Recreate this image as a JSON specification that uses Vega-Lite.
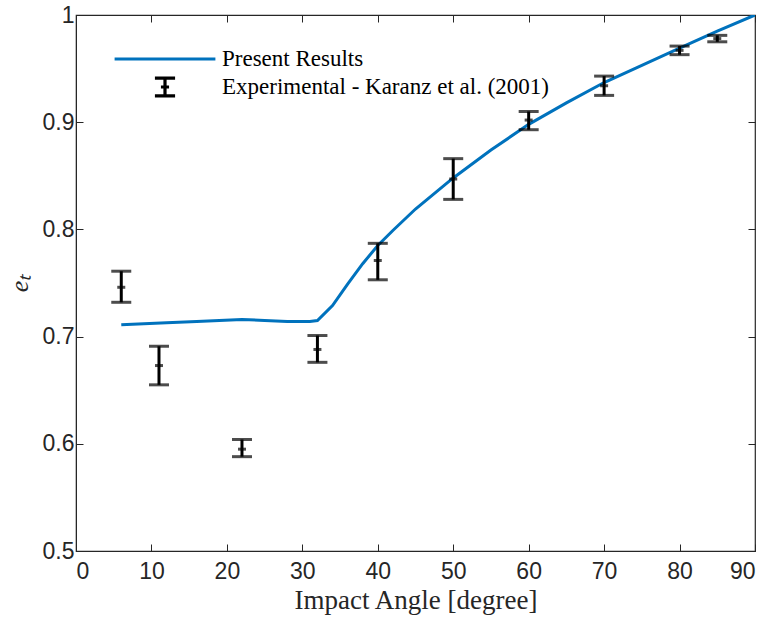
{
  "$schema": "https://vega.github.io/schema/vega-lite/v6.json",
  "width": 679,
  "height": 536,
  "autosize": {"type": "none"},
  "padding": {"left": 76, "top": 15, "right": 19, "bottom": 70},
  "background": "white",
  "config": {
    "view": {"stroke": "#262626", "strokeWidth": 1.2},
    "axis": {
      "grid": false,
      "domainColor": "#262626",
      "tickColor": "#262626",
      "labelColor": "#262626",
      "labelFont": "Liberation Sans",
      "labelFontSize": 23,
      "tickSize": -7,
      "titleFont": "Liberation Serif",
      "titleFontWeight": "normal",
      "titleColor": "#262626"
    }
  },
  "datasets": {
    "sim": [
      {"a": 6, "e": 0.711}, {"a": 9, "e": 0.712}, {"a": 12, "e": 0.713}, {"a": 16, "e": 0.714},
      {"a": 19, "e": 0.715}, {"a": 22, "e": 0.716}, {"a": 25, "e": 0.715}, {"a": 28, "e": 0.714},
      {"a": 31, "e": 0.714}, {"a": 32, "e": 0.715}, {"a": 34, "e": 0.729}, {"a": 36, "e": 0.749},
      {"a": 38, "e": 0.768}, {"a": 40, "e": 0.785}, {"a": 42, "e": 0.799}, {"a": 45, "e": 0.819},
      {"a": 50, "e": 0.848}, {"a": 55, "e": 0.874}, {"a": 60, "e": 0.898}, {"a": 65, "e": 0.918},
      {"a": 70, "e": 0.937}, {"a": 75, "e": 0.953}, {"a": 80, "e": 0.969}, {"a": 85, "e": 0.985},
      {"a": 90, "e": 1.0}
    ],
    "exp": [
      {"a": 6, "e": 0.746, "lo": 0.732, "hi": 0.761},
      {"a": 11, "e": 0.673, "lo": 0.655, "hi": 0.691},
      {"a": 22, "e": 0.595, "lo": 0.588, "hi": 0.604},
      {"a": 32, "e": 0.688, "lo": 0.676, "hi": 0.701},
      {"a": 40, "e": 0.771, "lo": 0.753, "hi": 0.787},
      {"a": 50, "e": 0.847, "lo": 0.828, "hi": 0.866},
      {"a": 60, "e": 0.902, "lo": 0.893, "hi": 0.910},
      {"a": 70, "e": 0.934, "lo": 0.925, "hi": 0.943},
      {"a": 80, "e": 0.967, "lo": 0.963, "hi": 0.971},
      {"a": 85, "e": 0.978, "lo": 0.975, "hi": 0.981}
    ]
  },
  "layer": [
    {
      "data": {"name": "sim"},
      "transform": [{"calculate": "'Present Results'", "as": "series"}],
      "mark": {"type": "line", "strokeWidth": 3, "clip": true},
      "encoding": {
        "x": {"field": "a", "type": "quantitative",
          "scale": {"domain": [0, 90], "nice": false},
          "axis": {"values": [0,10,20,30,40,50,60,70,80,90], "title": "Impact Angle [degree]", "titleFontSize": 27, "labelPadding": 16, "titlePadding": 4}},
        "y": {"field": "e", "type": "quantitative",
          "scale": {"domain": [0.5, 1], "nice": false, "zero": false},
          "axis": {"values": [0.5,0.6,0.7,0.8,0.9,1], "labelExpr": "datum.value == 1 ? '1' : format(datum.value, '.1f')", "title": "eₜ", "titleFontSize": 26, "titleFontStyle": "italic", "titlePadding": 10, "labelPadding": 9}},
        "color": {"field": "series", "type": "nominal",
          "scale": {"domain": ["Present Results", "Experimental - Karanz et al. (2001)"], "range": ["#0072BD", "#000000"]},
          "legend": {
            "title": null, "orient": "none", "legendX": 73, "legendY": 28,
            "symbolSize": 784, "labelFont": "Liberation Serif", "labelFontSize": 23, "labelColor": "#000000",
            "labelOffset": 41, "rowPadding": 0, "padding": 0, "labelLimit": 500,
            "encode": {"symbols": {"update": {
              "shape": {"signal": "datum.value === 'Present Results' ? 'M-3.6,0H3.6' : 'M-0.72,-0.64H0.72M0,-0.64V0.64M-0.72,0.64H0.72M-0.29,0H0.29'"},
              "stroke": {"signal": "datum.value === 'Present Results' ? '#0072BD' : '#000000'"},
              "fill": {"value": "transparent"},
              "strokeWidth": {"value": 3.2}
            }}}
          }}
      }
    },
    {
      "data": {"values": [{"a": 0, "e": 0.5}]},
      "mark": {"type": "point", "opacity": 0},
      "encoding": {
        "x": {"field": "a", "type": "quantitative", "axis": {"orient": "top", "values": [0,10,20,30,40,50,60,70,80,90], "labels": false, "ticks": true, "title": null, "domain": false}},
        "y": {"field": "e", "type": "quantitative", "axis": {"orient": "right", "values": [0.5,0.6,0.7,0.8,0.9,1], "labels": false, "ticks": true, "title": null, "domain": false}}
      }
    },
    {
      "data": {"name": "exp"},
      "mark": {"type": "rule", "strokeWidth": 3, "color": "#000000"},
      "encoding": {
        "x": {"field": "a", "type": "quantitative", "axis": null},
        "y": {"field": "lo", "type": "quantitative", "axis": null},
        "y2": {"field": "hi"}
      }
    },
    {
      "data": {"name": "exp"},
      "mark": {"type": "tick", "orient": "horizontal", "thickness": 3, "size": 20, "color": "#000000"},
      "encoding": {
        "x": {"field": "a", "type": "quantitative", "axis": null},
        "y": {"field": "lo", "type": "quantitative", "axis": null}
      }
    },
    {
      "data": {"name": "exp"},
      "mark": {"type": "tick", "orient": "horizontal", "thickness": 3, "size": 20, "color": "#000000"},
      "encoding": {
        "x": {"field": "a", "type": "quantitative", "axis": null},
        "y": {"field": "hi", "type": "quantitative", "axis": null}
      }
    },
    {
      "data": {"name": "exp"},
      "mark": {"type": "tick", "orient": "horizontal", "thickness": 3, "size": 8, "color": "#000000"},
      "encoding": {
        "x": {"field": "a", "type": "quantitative", "axis": null},
        "y": {"field": "e", "type": "quantitative", "axis": null}
      }
    }
  ],
  "resolve": {"axis": {"x": "independent", "y": "independent"}}
}
